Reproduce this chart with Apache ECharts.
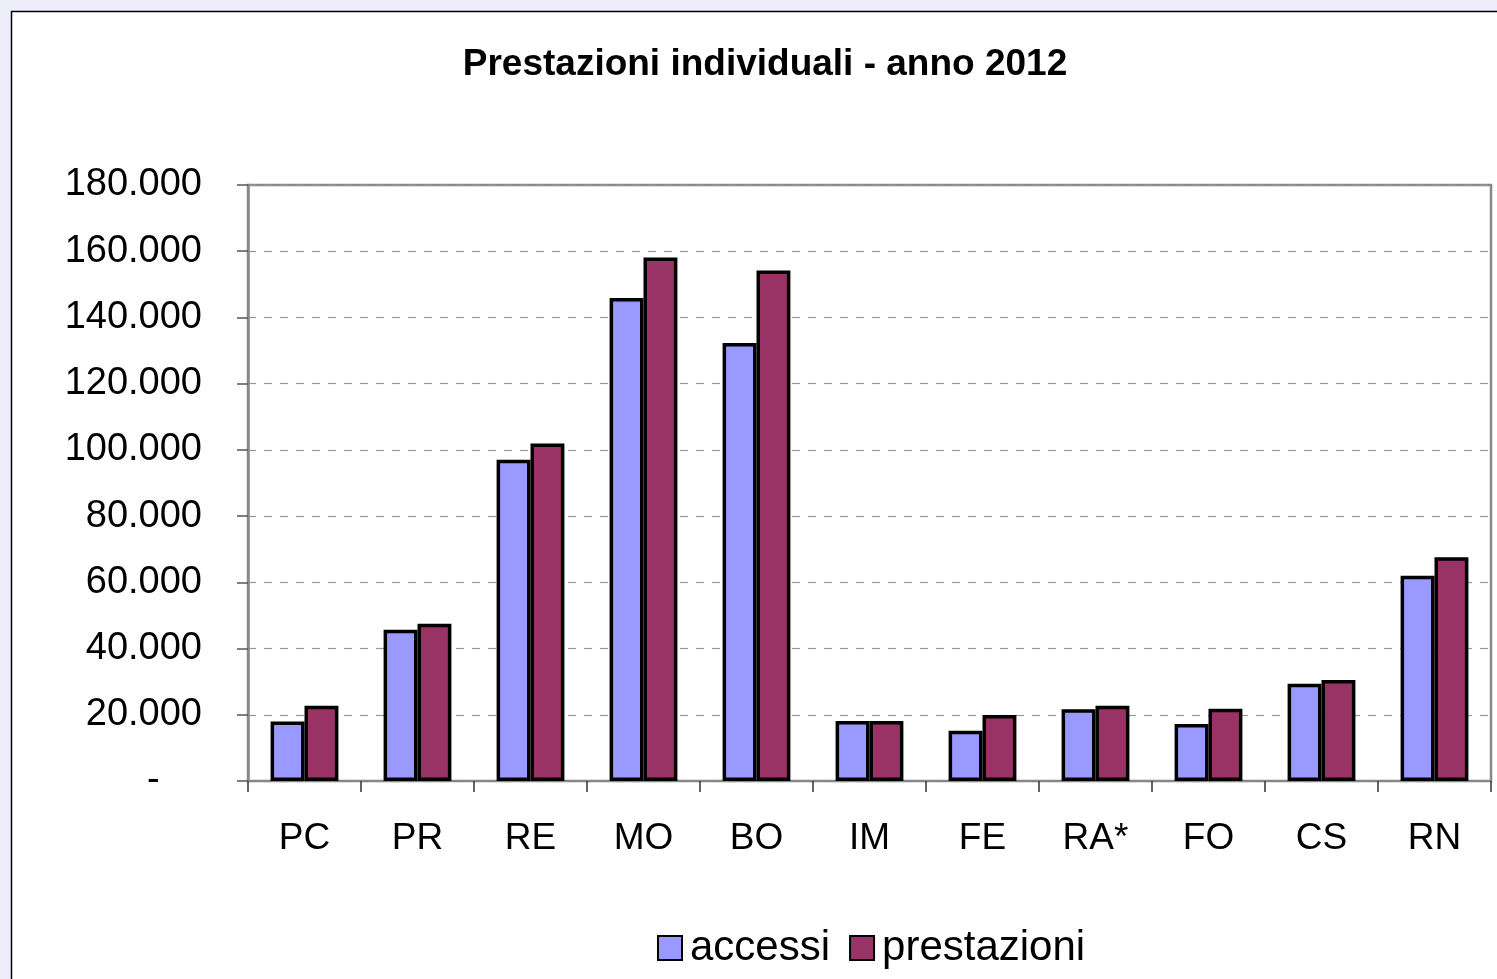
<!DOCTYPE html>
<html>
<head>
<meta charset="utf-8">
<title>Prestazioni individuali - anno 2012</title>
<script src="https://cdn.jsdelivr.net/npm/echarts@6/dist/echarts.min.js"></script>
<style>
    html, body { margin: 0; padding: 0; background: #eeeefb; }
    #chart { width: 1497px; height: 979px; }
</style>
</head>
<body>
<div id="chart"></div>
<script>
    // dati
    const categories = ['PC', 'PR', 'RE', 'MO', 'BO', 'IM', 'FE', 'RA*', 'FO', 'CS', 'RN'];
    const accessi = [18000, 45700, 97000, 145900, 132300, 18100, 15200, 21700, 17200, 29400, 62000];
    const prestazioni = [22700, 47500, 101900, 158100, 154200, 18100, 19900, 22700, 21800, 30500, 67600];

    const fmt = function (v) {
        if (v === 0) return '-    ';
        return String(v).replace(/\B(?=(\d{3})+(?!\d))/g, '.');
    };

    const chart = echarts.init(document.getElementById('chart'));
    const barBorder = { borderColor: '#000', borderWidth: 3.5 };

    chart.setOption({
        animation: false,
        backgroundColor: '#eeeefb',
        graphic: [{
            type: 'rect',
            silent: true,
            z: -10,
            shape: { x: 11.5, y: 11.5, width: 1500, height: 1000 },
            style: { fill: '#ffffff', stroke: '#000', lineWidth: 1.5 }
        }],
        title: {
            text: 'Prestazioni individuali - anno 2012',
            left: 760,
            textAlign: 'center',
            top: 41,
            textStyle: {
                fontFamily: 'Liberation Sans',
                fontWeight: 'bold',
                fontSize: 37,
                color: '#000'
            }
        },
        legend: {
            left: 652,
            top: 922,
            itemWidth: 24,
            itemHeight: 24,
            itemGap: 19,
            icon: 'rect',
            textStyle: {
                fontFamily: 'Liberation Sans',
                fontSize: 42,
                color: '#000',
                padding: [0, 0, 0, 3]
            },
            data: ['accessi', 'prestazioni']
        },
        grid: {
            left: 248,
            right: 6,
            top: 185,
            bottom: 198,
            show: true,
            borderColor: '#888',
            borderWidth: 2.5,
            containLabel: false
        },
        xAxis: {
            type: 'category',
            data: categories,
            axisLine: { lineStyle: { color: '#888', width: 2 } },
            axisTick: { show: true, length: 11, lineStyle: { color: '#333', width: 1.5 } },
            axisLabel: {
                margin: 39,
                fontFamily: 'Liberation Sans',
                fontSize: 37,
                color: '#000'
            }
        },
        yAxis: {
            type: 'value',
            min: 0,
            max: 180000,
            interval: 20000,
            axisLine: { show: true, lineStyle: { color: '#888', width: 2.5 } },
            axisTick: { show: true, length: 11, lineStyle: { color: '#555', width: 1.5 } },
            splitLine: { lineStyle: { color: '#999', type: [8, 8], width: 1.2 } },
            axisLabel: {
                margin: 46,
                formatter: fmt,
                fontFamily: 'Liberation Sans',
                fontSize: 38,
                color: '#000'
            }
        },
        series: [{
            name: 'accessi',
            type: 'bar',
            data: accessi,
            barGap: '0%',
            barCategoryGap: '40%',
            itemStyle: Object.assign({ color: '#9999ff' }, barBorder)
        }, {
            name: 'prestazioni',
            type: 'bar',
            data: prestazioni,
            barGap: '0%',
            barCategoryGap: '40%',
            itemStyle: Object.assign({ color: '#993366' }, barBorder)
        }]
    });
</script>
</body>
</html>
